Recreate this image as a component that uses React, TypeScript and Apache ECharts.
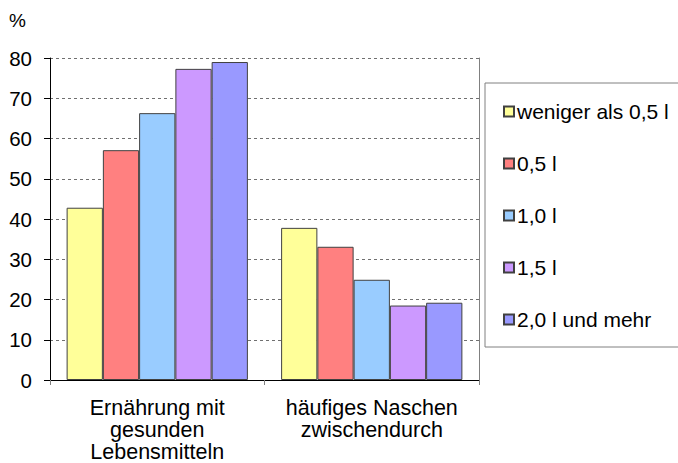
import React, { useEffect, useRef } from "react";
import * as echarts from "echarts";

const categories = ["Ernährung mit\ngesunden\nLebensmitteln", "häufiges Naschen\nzwischendurch"];
const seriesNames = ["weniger als 0,5 l", "0,5 l", "1,0 l", "1,5 l", "2,0 l und mehr"];
const seriesColors = ["#FFFF99", "#FF8080", "#99CCFF", "#CC99FF", "#9999FF"];
const seriesValues = [
  [42.8, 37.8],
  [57.1, 33.1],
  [66.3, 24.9],
  [77.3, 18.5],
  [79.0, 19.2],
];
const yTicks = { min: 0, max: 80, interval: 10 };

const FONT = "'Liberation Sans', Arial, sans-serif";

export default function App() {
  const ref = useRef<HTMLDivElement>(null);
  useEffect(() => {
    if (!ref.current) return;
    const chart = echarts.init(ref.current, null, { renderer: "svg" });
    chart.setOption({
      animation: false,
      textStyle: { fontFamily: FONT },
      grid: { left: 50, right: 199, top: 58, bottom: 83, containLabel: false },
      xAxis: {
        type: "category",
        data: categories,
        axisLine: { lineStyle: { color: "#000", width: 1 } },
        axisTick: { show: true, length: 5, lineStyle: { color: "#808080" } },
        axisLabel: {
          color: "#000",
          fontSize: 21.5,
          lineHeight: 22,
          margin: 17,
          fontFamily: FONT,
          interval: 0,
          hideOverlap: false,
        },
      },
      yAxis: [
        {
          type: "value",
          min: yTicks.min,
          max: yTicks.max,
          interval: yTicks.interval,
          axisLine: { show: true, lineStyle: { color: "#000", width: 1 } },
          axisTick: { show: true, length: 6, lineStyle: { color: "#000" } },
          axisLabel: { color: "#000", fontSize: 20.5, margin: 18, fontFamily: FONT },
          splitLine: { show: true, lineStyle: { color: "#707070", type: [3, 3], width: 1 } },
        },
        {
          type: "value",
          position: "right",
          min: yTicks.min,
          max: yTicks.max,
          interval: yTicks.interval,
          axisLine: { show: true, lineStyle: { color: "#808080", width: 1 } },
          axisTick: { show: false },
          axisLabel: { show: false },
          splitLine: { show: false },
        },
      ],
      legend: {
        orient: "vertical",
        left: 498,
        top: 96,
        itemWidth: 10,
        itemHeight: 10,
        itemGap: 31,
        icon: "rect",
        textStyle: { color: "#000", fontSize: 21, fontFamily: FONT, padding: [0, 0, 0, -2] },
        data: seriesNames,
      },
      graphic: [
        {
          type: "rect",
          shape: { x: 485, y: 83, width: 200, height: 264 },
          style: { fill: "none", stroke: "#808080", lineWidth: 1 },
          z: -1,
        },
        {
          type: "text",
          x: 9,
          y: 11,
          style: { text: "%", fontSize: 19, fill: "#000", fontFamily: FONT },
        },
      ],
      series: seriesNames.map((name, i) => ({
        name,
        type: "bar",
        data: seriesValues[i],
        barGap: "0%",
        barCategoryGap: "15.5%",
        itemStyle: { color: seriesColors[i], borderColor: "#404040", borderWidth: 1 },
      })),
    });
    return () => chart.dispose();
  }, []);
  return <div ref={ref} style={{ width: 678, height: 463, position: "absolute", left: 0, top: 0 }} />;
}
